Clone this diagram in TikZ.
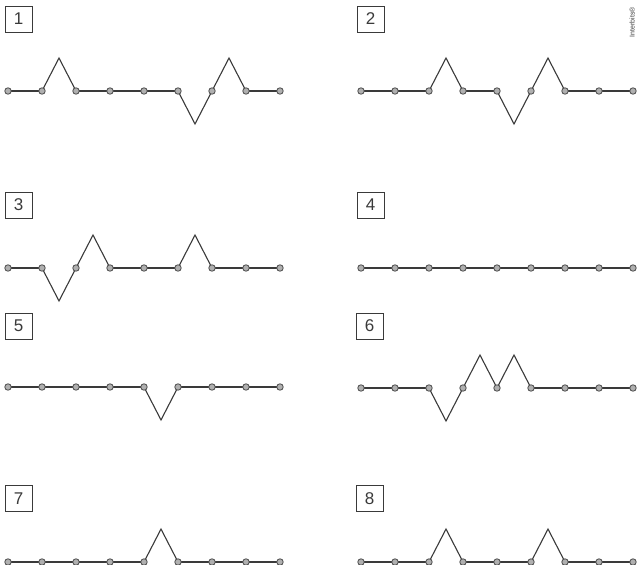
\documentclass[tikz,border=0pt]{standalone}
\usepackage{fontspec}
\setmainfont{Liberation Sans}
\definecolor{linec}{HTML}{3A3A3A}
\definecolor{dotfill}{HTML}{B0B0B0}
\definecolor{dotdraw}{HTML}{555555}
\tikzset{
  wire/.style={draw=linec, line width=1.1pt, line join=miter},
  dotnode/.style={circle, fill=dotfill, draw=dotdraw, line width=0.9pt, inner sep=0pt, minimum size=6.4pt},
  labelbox/.style={draw=linec, line width=0.9pt, minimum width=27pt, minimum height=26pt, inner sep=0pt, font=\fontsize{17}{17}\selectfont, text=linec}
}
% #1 name, #2 label, #3 box center x, #4 box center y, #5 first dot x, #6 dots y, #7 pattern
\newcommand\wavepanel[7]{%
  \node[labelbox] (#1box) at (#3,#4) {#2};
  \foreach \i in {0,...,8} {\coordinate (#1c\i) at ({#5+34*\i},#6);}
  \foreach \s [count=\k from 1] in {#7} {
    \pgfmathtruncatemacro\a{\k-1}
    \ifnum\s=0
      \draw[wire] (#1c\a) -- (#1c\k);
    \else
      \draw[wire] (#1c\a) -- ++(17,{-33*\s}) coordinate (#1p\a) -- (#1c\k);
    \fi
  }
  \foreach \i in {0,...,8} {\node[dotnode] (#1d\i) at (#1c\i) {};}
}
\begin{document}
\begin{tikzpicture}[x=1pt,y=-1pt]
\useasboundingbox (0,0) rectangle (638,565);
\wavepanel{a}{1}{18.5}{19}{8}{91}{0,1,0,0,0,-1,1,0}
\wavepanel{b}{2}{370.5}{19}{361}{91}{0,0,1,0,-1,1,0,0}
\wavepanel{c}{3}{18.5}{205}{8}{268}{0,-1,1,0,0,1,0,0}
\wavepanel{e}{4}{370.5}{205}{361}{268}{0,0,0,0,0,0,0,0}
\wavepanel{f}{5}{18.5}{326}{8}{387}{0,0,0,0,-1,0,0,0}
\wavepanel{g}{6}{369.5}{326}{361}{388}{0,0,-1,1,1,0,0,0}
\wavepanel{h}{7}{18.5}{498.5}{8}{562}{0,0,0,0,1,0,0,0}
\wavepanel{k}{8}{369.5}{498.5}{361}{562}{0,0,1,0,0,1,0,0}
\node[rotate=90, font=\fontsize{7}{7}\selectfont, text=linec, inner sep=0pt] (brand) at (632,22) {Interbits®};
\end{tikzpicture}
\end{document}
